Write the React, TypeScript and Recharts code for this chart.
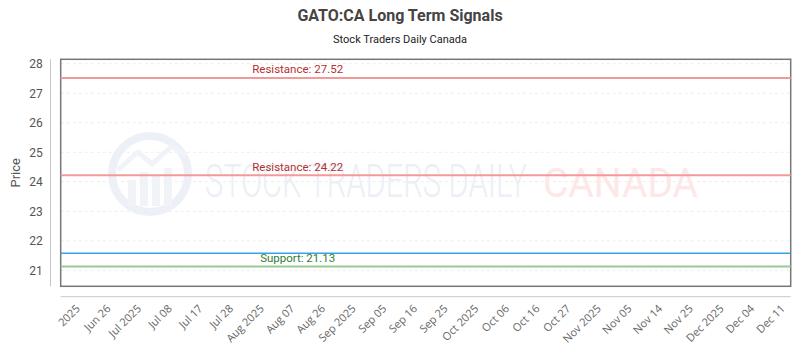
import { ComposedChart, Line, XAxis, YAxis, CartesianGrid, ReferenceLine, usePlotArea } from 'recharts';

const dateLabels = [
  '2025', 'Jun 26', 'Jul 2025', 'Jul 08', 'Jul 17', 'Jul 28', 'Aug 2025', 'Aug 07',
  'Aug 26', 'Sep 2025', 'Sep 05', 'Sep 16', 'Sep 25', 'Oct 2025', 'Oct 06', 'Oct 16',
  'Oct 27', 'Nov 2025', 'Nov 05', 'Nov 14', 'Nov 25', 'Dec 2025', 'Dec 04', 'Dec 11',
];
const priceValues = [
  21.58, 21.58, 21.58, 21.58, 21.58, 21.58, 21.58, 21.58,
  21.58, 21.58, 21.58, 21.58, 21.58, 21.58, 21.58, 21.58,
  21.58, 21.58, 21.58, 21.58, 21.58, 21.58, 21.58, 21.58,
];
const resistanceLevels = [27.52, 24.22];
const supportLevels = [21.13];
const yTicks = [21, 22, 23, 24, 25, 26, 27, 28];
const yDomain = [20.46, 28.15];

const data = dateLabels.map((d, i) => ({ date: d, idx: i, price: priceValues[i] }));

const FONT = 'Roboto, sans-serif';

// eslint-disable-next-line @typescript-eslint/no-explicit-any
function XTick({ x, y, payload }: any) {
  const ay = y + 23;
  return (
    <text x={x + 1} y={ay} transform={`rotate(-45 ${x + 1} ${ay})`} textAnchor="end"
      fontFamily="'Open Sans', sans-serif" fontSize={11} fill="#666">
      {payload.value}
    </text>
  );
}

function levelLabel(text: string, color: string) {
  // eslint-disable-next-line @typescript-eslint/no-explicit-any
  return (props: any) => {
    const vb = props.viewBox || {};
    return (
      <text x={vb.x + 237} y={vb.y - 4.5} textAnchor="middle" fontFamily={FONT}
        fontSize={11.5} fill={color}>
        {text}
      </text>
    );
  };
}

// faint site watermark behind the plot
function Watermark() {
  return (
    <g>
      <circle cx={150} cy={174} r={38} fill="none" stroke="#edf0f7" strokeWidth={8} />
      <rect x={128} y={180} width={8} height={26} fill="#f0f3f8" />
      <rect x={140} y={172} width={8} height={34} fill="#f0f3f8" />
      <rect x={152} y={176} width={8} height={30} fill="#f0f3f8" />
      <rect x={164} y={168} width={8} height={38} fill="#f0f3f8" />
      <polyline points="118,170 138,152 152,164 172,146 186,156" fill="none" stroke="#f0f3f8" strokeWidth={5} />
      <text x={205} y={196.7} fontFamily={FONT} fontWeight={300} fontSize={46} textLength={322}
        lengthAdjust="spacingAndGlyphs" fill="#eceff6">STOCK TRADERS DAILY</text>
      <text x={543} y={196.7} fontFamily={FONT} fontSize={41} textLength={155}
        lengthAdjust="spacingAndGlyphs" fill="#fde8e8">CANADA</text>
    </g>
  );
}

function Frame() {
  const area = usePlotArea();
  if (!area) return null;
  const { x, y, width, height } = area;
  return (
    <g>
      <line x1={x - 10.2} x2={x - 10.2} y1={y} y2={y + height} stroke="#c8c8c8" />
      <line x1={x} x2={x + width} y1={y + height + 10.4} y2={y + height + 10.4} stroke="#c8c8c8" />
      <rect x={x} y={y} width={width} height={height} fill="none" stroke="#777" strokeWidth={1.5} />
      <text x={16} y={y + (height / 2)} transform={`rotate(-90 16 ${y + height / 2})`}
        textAnchor="middle" dominantBaseline="central" fontFamily={FONT} fontSize={13} fill="#555">
        Price
      </text>
    </g>
  );
}

export default function App() {
  return (
    <div style={{ width: 800, height: 350, position: 'relative', background: '#fff' }}>
      <style>{'body{margin:0}'}</style>
      <svg width={800} height={50} style={{ position: 'absolute', left: 0, top: 0 }}>
        <text x={400} y={21} textAnchor="middle" fontFamily={FONT} fontWeight="bold" fontSize={16} fill="#444">
          GATO:CA Long Term Signals
        </text>
        <text x={400} y={43} textAnchor="middle" fontFamily={FONT} fontSize={11} fill="#222">
          Stock Traders Daily Canada
        </text>
      </svg>
      <div style={{ position: 'absolute', left: 0, top: 0 }}>
        <ComposedChart width={800} height={350} data={data}
          margin={{ top: 59.3, right: 9.3, bottom: 0, left: 0 }}>
          <Watermark />
          <CartesianGrid vertical={false} strokeDasharray="3 3" stroke="#ececec" />
          <XAxis dataKey="date" type="category" scale="point" padding={{ left: 19, right: 6 }}
            height={63.7} axisLine={false} tickLine={false} tickSize={0} tickMargin={0}
            interval={0} tick={<XTick />} />
          <XAxis xAxisId="idx" dataKey="idx" type="number" domain={[0, priceValues.length - 1]} hide />
          <YAxis domain={yDomain} ticks={yTicks} width={60.7} axisLine={false} tickLine={false}
            tickSize={0} tickMargin={18} allowDataOverflow
            tick={{ fontFamily: FONT, fontSize: 12, fill: '#555' }} />
          {resistanceLevels.map((v) => (
            <ReferenceLine key={`r${v}`} y={v} stroke="#f29a9a" strokeWidth={2}
              label={levelLabel(`Resistance: ${v.toFixed(2)}`, '#b43030')} />
          ))}
          {supportLevels.map((v) => (
            <ReferenceLine key={`s${v}`} y={v} stroke="#96cb96" strokeWidth={2}
              label={levelLabel(`Support: ${v.toFixed(2)}`, '#2e7d32')} />
          ))}
          <Line xAxisId="idx" dataKey="price" stroke="#36a2eb" strokeWidth={1.5} dot={false}
            isAnimationActive={false} />
          <Frame />
        </ComposedChart>
      </div>
    </div>
  );
}
